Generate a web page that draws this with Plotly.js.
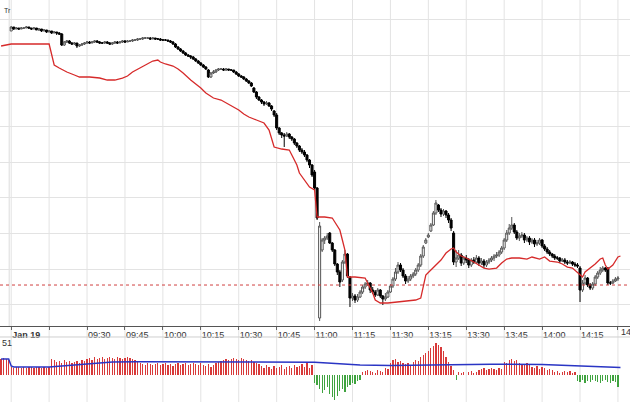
<!DOCTYPE html>
<html><head><meta charset="utf-8">
<script src="https://cdn.plot.ly/plotly-3.0.1.min.js"></script>
<style>html,body{margin:0;padding:0;background:#fff;overflow:hidden}#chart{width:630px;height:402px}</style>
</head><body><div id="chart"></div>
<script>
// Trading minutes since session start (lunch break removed), Jan 19
const tickMinutes = [0,15,30,45,60,75,90,105,120,135,150,165,180,195,210,225,240];
const tickLabels = ["<b>Jan 19</b>","","09:30","09:45","10:00","10:15","10:30","10:45","11:00","11:15","11:30","13:15","13:30","13:45","14:00","14:15","14:30"];
const priceGrid = [2524,2532.75,2541.75,2550.75,2559.5,2568.5,2577.25,2586.25,2595.25];
const refLevel = 2528.75;

const openP = [
2592.25,2593.25,2592.75,2593,2592.75,2593,2593,2593.25,2593,2592.75,
2593,2592.5,2592.75,2592.25,2592.5,2592,2592.25,2591.75,2592,2591.75,
2591.5,2588.75,2589.5,2589.75,2589.25,2589,2589.25,2588.5,2588.75,2589,
2589.25,2589.5,2589.25,2589.5,2589.75,2589.5,2589.25,2589.25,2589.5,2589.25,
2589,2589.25,2589.5,2589.25,2589.5,2589.75,2589.5,2589.75,2589.75,2590,
2590,2590.25,2590.25,2590.5,2590.5,2590.5,2590.25,2590.5,2590.25,2590.25,
2590,2590,2590,2589.75,2589.5,2589,2588.25,2587.75,2587.25,2586.75,
2586.25,2586,2585.75,2585.25,2584.75,2584.25,2583.75,2583.25,2582.5,2580.75,
2581.75,2582,2582.5,2582.75,2582.75,2582.5,2582.75,2582.5,2582.5,2582,
2581.5,2581,2580.75,2580.25,2579.75,2579.25,2578,2577,2575.75,2575,
2574.5,2574,2574.25,2573.5,2572.25,2571.25,2568,2566.75,2566.25,2566,
2566.5,2565.75,2565.25,2564.25,2563.5,2562.5,2562,2561.25,2560,2558.75,
2557,2553,2520.5,2537.5,2540,2540.5,2541.75,2539.25,2537.5,2534,
2532,2530,2534.5,2536.5,2530.75,2525.5,2526,2525,2525.75,2527,
2528.25,2529,2529.25,2527.5,2527,2526.25,2527.5,2526,2525.25,2525.75,
2527,2528.5,2530.25,2532,2533.75,2532.5,2531,2529.75,2530.25,2531,
2531.5,2532.5,2533.75,2536,2539.25,2540.75,2542.25,2543.75,2546.75,2548.75,
2547.5,2546.5,2547.25,2546.25,2545,2541.75,2534.5,2535.5,2536.25,2534.25,
2535.5,2535,2533.75,2535,2534.5,2535.5,2534.25,2534.75,2533.75,2534.5,
2535,2535.5,2536,2536.25,2537,2538,2540,2541.75,2543,2543.75,
2542,2540.5,2541,2541.25,2540,2540.5,2539.5,2540,2539,2539.25,
2540,2538.5,2537.75,2537,2536.5,2536,2535.5,2535.5,2534.75,2535,
2534.5,2534.25,2534.5,2534,2533.75,2533,2527.5,2529.25,2530.5,2528.75,
2528,2529,2530.75,2531.75,2532.5,2533,2533,2529.25,2529.25,2529.75,
2530.25];
const highP = [
2593.5,2593.25,2593.25,2593,2593.25,2593.25,2593.5,2593.25,2593,2593.25,
2593,2593,2592.75,2592.75,2592.5,2592.5,2592.25,2592.25,2592,2592,
2591.75,2589.75,2590,2590,2589.5,2589.5,2589.25,2589,2589.25,2589.5,
2589.75,2589.75,2589.75,2590,2590,2589.75,2589.5,2589.75,2589.75,2589.5,
2589.5,2589.75,2589.75,2589.75,2590,2590,2590,2590,2590.25,2590.25,
2590.5,2590.5,2590.75,2590.75,2590.75,2590.75,2590.75,2590.5,2590.5,2590.5,
2590.25,2590.25,2590,2590,2589.75,2589.25,2588.5,2588,2587.5,2587,
2586.5,2586.25,2586,2585.5,2585,2584.5,2584,2583.5,2582.75,2582,
2582.5,2582.75,2583,2583,2583,2583,2582.75,2582.75,2582.5,2582.25,
2581.75,2581.25,2581,2580.5,2580,2579.5,2578.25,2577.25,2576,2575.25,
2574.75,2574.75,2574.5,2573.75,2572.5,2571.75,2568.25,2567,2566.75,2567,
2566.75,2566,2565.5,2564.5,2563.75,2563,2562.5,2561.5,2560.25,2559,
2557.5,2553.25,2544.5,2540.5,2541,2541.75,2542,2539.5,2537.75,2534.25,
2532.5,2535,2537.5,2536.75,2531,2526.75,2526.5,2526.5,2527.5,2528.75,
2529.5,2530,2529.5,2528.25,2527.5,2528,2527.75,2526.25,2526.75,2527.5,
2529,2530.75,2533,2534.5,2534.25,2533,2531.5,2531,2531.5,2532,
2533,2534.25,2536.5,2538.75,2540.5,2541.75,2544.25,2547.25,2550,2549,
2548,2547.75,2547.5,2546.75,2545.5,2542.25,2537.5,2537.5,2536.75,2536,
2536.25,2535.5,2535.5,2535.75,2536.25,2536,2535.5,2535.25,2535,2535.5,
2536,2536.5,2537,2537.5,2538.5,2540.5,2542.5,2544,2545.75,2544.25,
2542.5,2541.75,2542,2541.75,2541,2541,2540.5,2540.5,2540,2540.5,
2540.25,2539,2538.25,2537.5,2536.75,2536.5,2536,2535.75,2535.5,2535.5,
2535,2535,2534.75,2534.5,2534.25,2533.5,2530,2531.25,2530.75,2529.25,
2529.5,2531.25,2532.25,2533.25,2533.5,2533.25,2533.25,2529.75,2530.25,2530.75,
2531];
const lowP = [
2592.25,2592.5,2592.75,2592.5,2592.75,2592.75,2593,2592.75,2592.5,2592.75,
2592.5,2592.25,2592,2592.25,2591.75,2592,2591.5,2591.75,2591.25,2591.25,
2588.5,2588.5,2589.25,2589,2588.75,2588.75,2588,2588.25,2588.5,2588.75,
2589,2589,2589.25,2589.25,2589.25,2589,2589,2589,2589,2588.75,
2588.75,2589,2589,2589.25,2589.25,2589.25,2589.5,2589.5,2589.5,2589.75,
2589.75,2590,2590,2590.25,2590.25,2590,2590.25,2590,2590,2589.75,
2589.75,2589.75,2589.5,2589.25,2588.75,2588,2587.5,2587,2586.5,2586,
2585.75,2585.25,2585,2584.5,2584,2583.5,2583,2582.5,2580.5,2580.5,
2581.5,2581.75,2582.25,2582.5,2582.25,2582.25,2582.25,2582.25,2581.75,2581.25,
2580.75,2580.5,2580,2579.5,2579,2578.25,2576.75,2575.25,2574.75,2574,
2573.5,2573.75,2573.25,2572.25,2570.75,2567.5,2566.25,2565.5,2563.25,2565.75,
2565.25,2564.75,2563.75,2563,2562,2561.5,2560.75,2559.5,2558,2555.75,
2552.5,2545,2519.75,2537,2539,2540,2539,2537,2533.5,2531.25,
2528.25,2529.5,2534,2530.5,2523.25,2524.75,2524.25,2524.5,2525.5,2526.5,
2527.75,2528.5,2526.75,2526.5,2525.75,2526,2525.5,2523.75,2524.75,2525.5,
2526.75,2528,2529.75,2531.5,2532,2530.5,2529,2529.25,2529.75,2530.5,
2531,2532,2533.25,2535.5,2539,2540.5,2542,2543.5,2546.25,2547,
2545.75,2546,2545.5,2544.25,2542.25,2533.75,2533.25,2535,2533.5,2533.75,
2534.25,2533,2533.25,2534,2534,2533.5,2533.75,2533,2533.25,2534,
2534.5,2534.75,2535.5,2535.75,2536.5,2537.5,2539.5,2541.25,2542.5,2541.5,
2540,2539.75,2540.5,2539.25,2539.5,2538.75,2539,2538.25,2538.5,2538.75,
2538,2537.25,2536.5,2536,2535.5,2535,2535,2534.25,2534.5,2534,
2533.75,2534,2533.5,2533.25,2533,2524.5,2527,2528.75,2528.25,2527.5,
2527.5,2528.5,2530.25,2531.25,2532,2532,2528.75,2528.75,2529,2529.5,
2529.75];
const closeP = [
2593.25,2592.75,2593,2592.75,2593,2593,2593.25,2593,2592.75,2593,
2592.5,2592.75,2592.25,2592.5,2592,2592.25,2591.75,2592,2591.75,2591.5,
2588.75,2589.5,2589.75,2589.25,2589,2589.25,2588.5,2588.75,2589,2589.25,
2589.5,2589.25,2589.5,2589.75,2589.5,2589.25,2589.25,2589.5,2589.25,2589,
2589.25,2589.5,2589.25,2589.5,2589.75,2589.5,2589.75,2589.75,2590,2590,
2590.25,2590.25,2590.5,2590.5,2590.5,2590.25,2590.5,2590.25,2590.25,2590,
2590,2590,2589.75,2589.5,2589,2588.25,2587.75,2587.25,2586.75,2586.25,
2586,2585.75,2585.25,2584.75,2584.25,2583.75,2583.25,2582.75,2580.75,2581.75,
2582,2582.5,2582.75,2582.75,2582.5,2582.75,2582.5,2582.5,2582,2581.5,
2581,2580.75,2580.25,2579.75,2579.25,2578.5,2577,2575.75,2575,2574.5,
2574,2574.25,2573.5,2572.75,2571.25,2568,2566.75,2566.25,2566,2566.5,
2565.75,2565.25,2564.25,2563.5,2562.5,2562,2561.25,2560,2558.75,2556.25,
2553,2545.5,2543.5,2540,2540.5,2541,2539.25,2537.5,2534,2532,
2529.5,2534.5,2536.5,2531,2525.5,2526,2525,2525.75,2527,2528.25,
2529,2529.25,2527.5,2527,2526.25,2527.5,2526,2525.25,2525.75,2527,
2528.5,2530.25,2532,2533.75,2532.5,2531,2529.75,2530.25,2531,2531.5,
2532.5,2533.75,2536,2538.25,2540,2541.25,2543.75,2546.75,2549.25,2547.5,
2546.5,2547.25,2546.25,2545,2543,2534.5,2535.5,2536.25,2534.25,2535.5,
2535,2533.75,2535,2534.5,2535.5,2534.25,2534.75,2533.75,2534.5,2535,
2535.5,2536,2536.25,2537,2538,2540,2541.75,2543,2543.75,2542,
2540.5,2541,2541.25,2540,2540.5,2539.5,2540,2539,2539.25,2540,
2538.5,2537.75,2537,2536.5,2536,2535.5,2535.5,2534.75,2535,2534.5,
2534.25,2534.5,2534,2533.75,2533.5,2527.5,2529.25,2530.5,2528.75,2528,
2529,2530.75,2531.75,2532.5,2533,2532.5,2529.25,2529.25,2529.75,2530.25,
2530.5];

// Red indicator line (vertices)
const redX = [-4,-1,0,15,16,17,19,22,25,27,31,35,38,41,44,46,48,51,54,56,58,59,61,64,66,68,71,73,75,77,80,83,85,88,90,92,94,97,100,102,103,104,107,110,111,113,114,116,118,120,121,124,127,128,130,131,132,133,136,140,141,143,144,146,149,152,156,160,162,163,164,166,168,170,172,174,175,176,178,180,183,185,187,189,192,194,196,198,201,204,206,209,211,213,216,218,220,222,224,226,227,229,231,233,234,235,236,238,240,241];
const redY = [2588.5,2588.75,2589,2589,2586.25,2583.75,2583,2582,2581.25,2580.75,2580.75,2580.5,2580,2580,2580.5,2581,2582,2583,2584,2584.75,2585,2584.5,2584,2583.5,2582.75,2581.75,2580,2579,2578,2576.75,2575.5,2575,2574.25,2573.25,2572.5,2571.5,2570.75,2570,2569.25,2567.5,2565,2563.25,2562.75,2562.5,2561.25,2558.75,2556.75,2555,2553.25,2552.5,2545.75,2545.75,2545.5,2544.5,2542.5,2540,2537.5,2530.75,2530.75,2530.5,2529.25,2526.75,2525,2524.25,2524.25,2524.5,2524.75,2525,2525.5,2528.75,2531.25,2532.5,2533.75,2535,2536.75,2537.75,2538,2537,2536,2535.5,2534.5,2533.75,2533,2532.75,2533,2534.25,2535.25,2535.5,2535.5,2535.25,2535.75,2535.25,2535.75,2534.75,2534.5,2534,2533.25,2533,2531.75,2530.75,2532,2533,2534,2535.25,2535.5,2533.75,2532.75,2533.75,2535.75,2536];

// Lower panel oscillator (minutes -4 .. 240)
const oscStart = -4;
const oscValues = [
16,17,16,15,
8,7,8,8,7,8,7,8,8,7,8,8,7,8,7,8,
16,15,13,14,12,15,13,14,12,13,14,12,15,14,
16,17,15,18,16,17,18,16,17,18,17,16,18,17,16,17,18,17,16,15,14,
12,11,10,12,11,10,11,12,10,11,12,10,11,9,11,12,10,11,12,10,11,12,11,10,12,
10,9,11,8,10,
12,13,14,15,16,15,16,17,16,15,17,16,15,14,15,13,12,11,
9,7,10,8,6,9,7,8,10,6,8,9,7,10,8,9,
11,8,12,7,10,
-8,-10,-14,-18,-15,-12,-19,-22,-25,-21,-16,-14,-17,-12,-10,-8,-9,-6,-5,
3,4,5,4,3,2,5,4,3,
7,6,
12,15,16,13,14,
12,11,12,10,
13,15,14,18,20,22,
24,27,29,32,30,28,
24,18,13,9,5,
-5,
3,2,3,0,3,4,2,3,
5,6,7,5,6,7,6,5,7,6,
13,12,15,16,14,15,12,
11,10,12,10,
8,7,9,6,8,7,5,6,5,
3,4,2,3,4,3,4,2,3,
-6,-7,-5,-8,-6,-7,-5,-6,-7,-8,-6,-5,-7,-8,-6,-7,-12];
const blueX = [-4,-1,0,1,15,20,25,30,35,40,50,75,100,110,120,125,130,138,150,165,176,190,210,220,232,241];
const blueY = [16,16,9,8,8,9,10.5,11.5,12.5,13,13.3,13.3,13,12.7,12.7,12,11,10,9.5,10,10.3,10.7,10.5,9.5,8.5,7.5];

const minutes = openP.map((_, i) => i);
const oscX = oscValues.map((_, i) => oscStart + i);
const oscColors = oscValues.map(v => v >= 0 ? '#d83a3a' : '#3fa33f');

const FONT = 'Liberation Sans, Arial, sans-serif';
const xRange = [-4.43, 244.77];

const traces = [
  {type:'candlestick', x:minutes, open:openP, high:highP, low:lowP, close:closeP,
   xaxis:'x', yaxis:'y', whiskerwidth:0, hoverinfo:'skip', showlegend:false,
   increasing:{line:{color:'#555555', width:1}, fillcolor:'#ffffff'},
   decreasing:{line:{color:'#000000', width:1}, fillcolor:'#000000'}},
  {type:'scatter', mode:'lines', x:redX, y:redY, xaxis:'x', yaxis:'y',
   line:{color:'#d62a2a', width:1.3}, hoverinfo:'skip', showlegend:false},
  {type:'bar', x:oscX, y:oscValues, xaxis:'x2', yaxis:'y2', width:0.5,
   marker:{color:oscColors, line:{width:0}}, hoverinfo:'skip', showlegend:false},
  {type:'scatter', mode:'lines', x:blueX, y:blueY, xaxis:'x2', yaxis:'y2',
   line:{color:'#2a35c4', width:1.5}, hoverinfo:'skip', showlegend:false}
];

const shapes = tickMinutes.map(t => ({type:'line', xref:'x', yref:'paper', x0:t, x1:t, y0:0, y1:1,
  line:{color:'#e3e3e3', width:1}, layer:'below'}));
shapes.push({type:'line', xref:'x', yref:'paper', x0:-0.8, x1:-0.8, y0:0.189, y1:1, line:{color:'#dcdcdc', width:1}, layer:'below'});
shapes.push({type:'line', xref:'paper', yref:'y', x0:0, x1:1, y0:refLevel, y1:refLevel,
  line:{color:'#d04040', width:1, dash:'dot'}});
shapes.push({type:'line', xref:'paper', yref:'paper', x0:0, x1:1, y0:0.1617, y1:0.1617,
  line:{color:'#cfcfcf', width:1}});

const layout = {
  width:630, height:402,
  margin:{l:0, r:0, t:0, b:0, pad:0},
  paper_bgcolor:'#ffffff', plot_bgcolor:'#ffffff',
  font:{family:FONT, size:9, color:'#333333'},
  showlegend:false,
  bargap:0,
  boxgap:0.2,
  boxgroupgap:0,
  xaxis:{domain:[0,1], anchor:'y', range:xRange, tickmode:'array', tickvals:tickMinutes, ticktext:tickLabels,
    ticks:'outside', ticklen:3, tickcolor:'#666666', ticklabelposition:'outside right',
    showgrid:false, zeroline:false, showline:true, linecolor:'#555555', linewidth:1,
    tickfont:{family:FONT, size:9, color:'#333333'}, rangeslider:{visible:false}, fixedrange:true},
  xaxis2:{domain:[0,1], anchor:'y2', range:xRange, showticklabels:false, ticks:'', showgrid:false,
    zeroline:false, showline:false, fixedrange:true},
  yaxis:{domain:[0.189,1], anchor:'x', range:[2518.5,2600], tickmode:'array', tickvals:priceGrid,
    showticklabels:false, ticks:'', gridcolor:'#e3e3e3', gridwidth:1, zeroline:false, fixedrange:true},
  yaxis2:{domain:[0,0.1617], anchor:'x2', range:[-27,38], showticklabels:false, ticks:'',
    showgrid:false, zeroline:false, fixedrange:true},
  shapes:shapes,
  annotations:[
    {text:'Tr', xref:'paper', yref:'paper', x:0.003, y:1-10/402, xanchor:'left', yanchor:'middle',
     showarrow:false, font:{family:FONT, size:7, color:'#333333'}},
    {text:'51', xref:'paper', yref:'paper', x:0, y:(402-343)/402, xanchor:'left', yanchor:'middle',
     showarrow:false, font:{family:FONT, size:9, color:'#333333'}},
    {text:tickLabels[tickLabels.length-1], xref:'x', yref:'paper', x:tickMinutes[tickMinutes.length-1], xshift:1,
     y:(402-332)/402, xanchor:'left', yanchor:'middle', showarrow:false,
     font:{family:FONT, size:9, color:'#333333'}}
  ]
};

Plotly.newPlot('chart', traces, layout, {displayModeBar:false, staticPlot:true});
</script></body></html>
